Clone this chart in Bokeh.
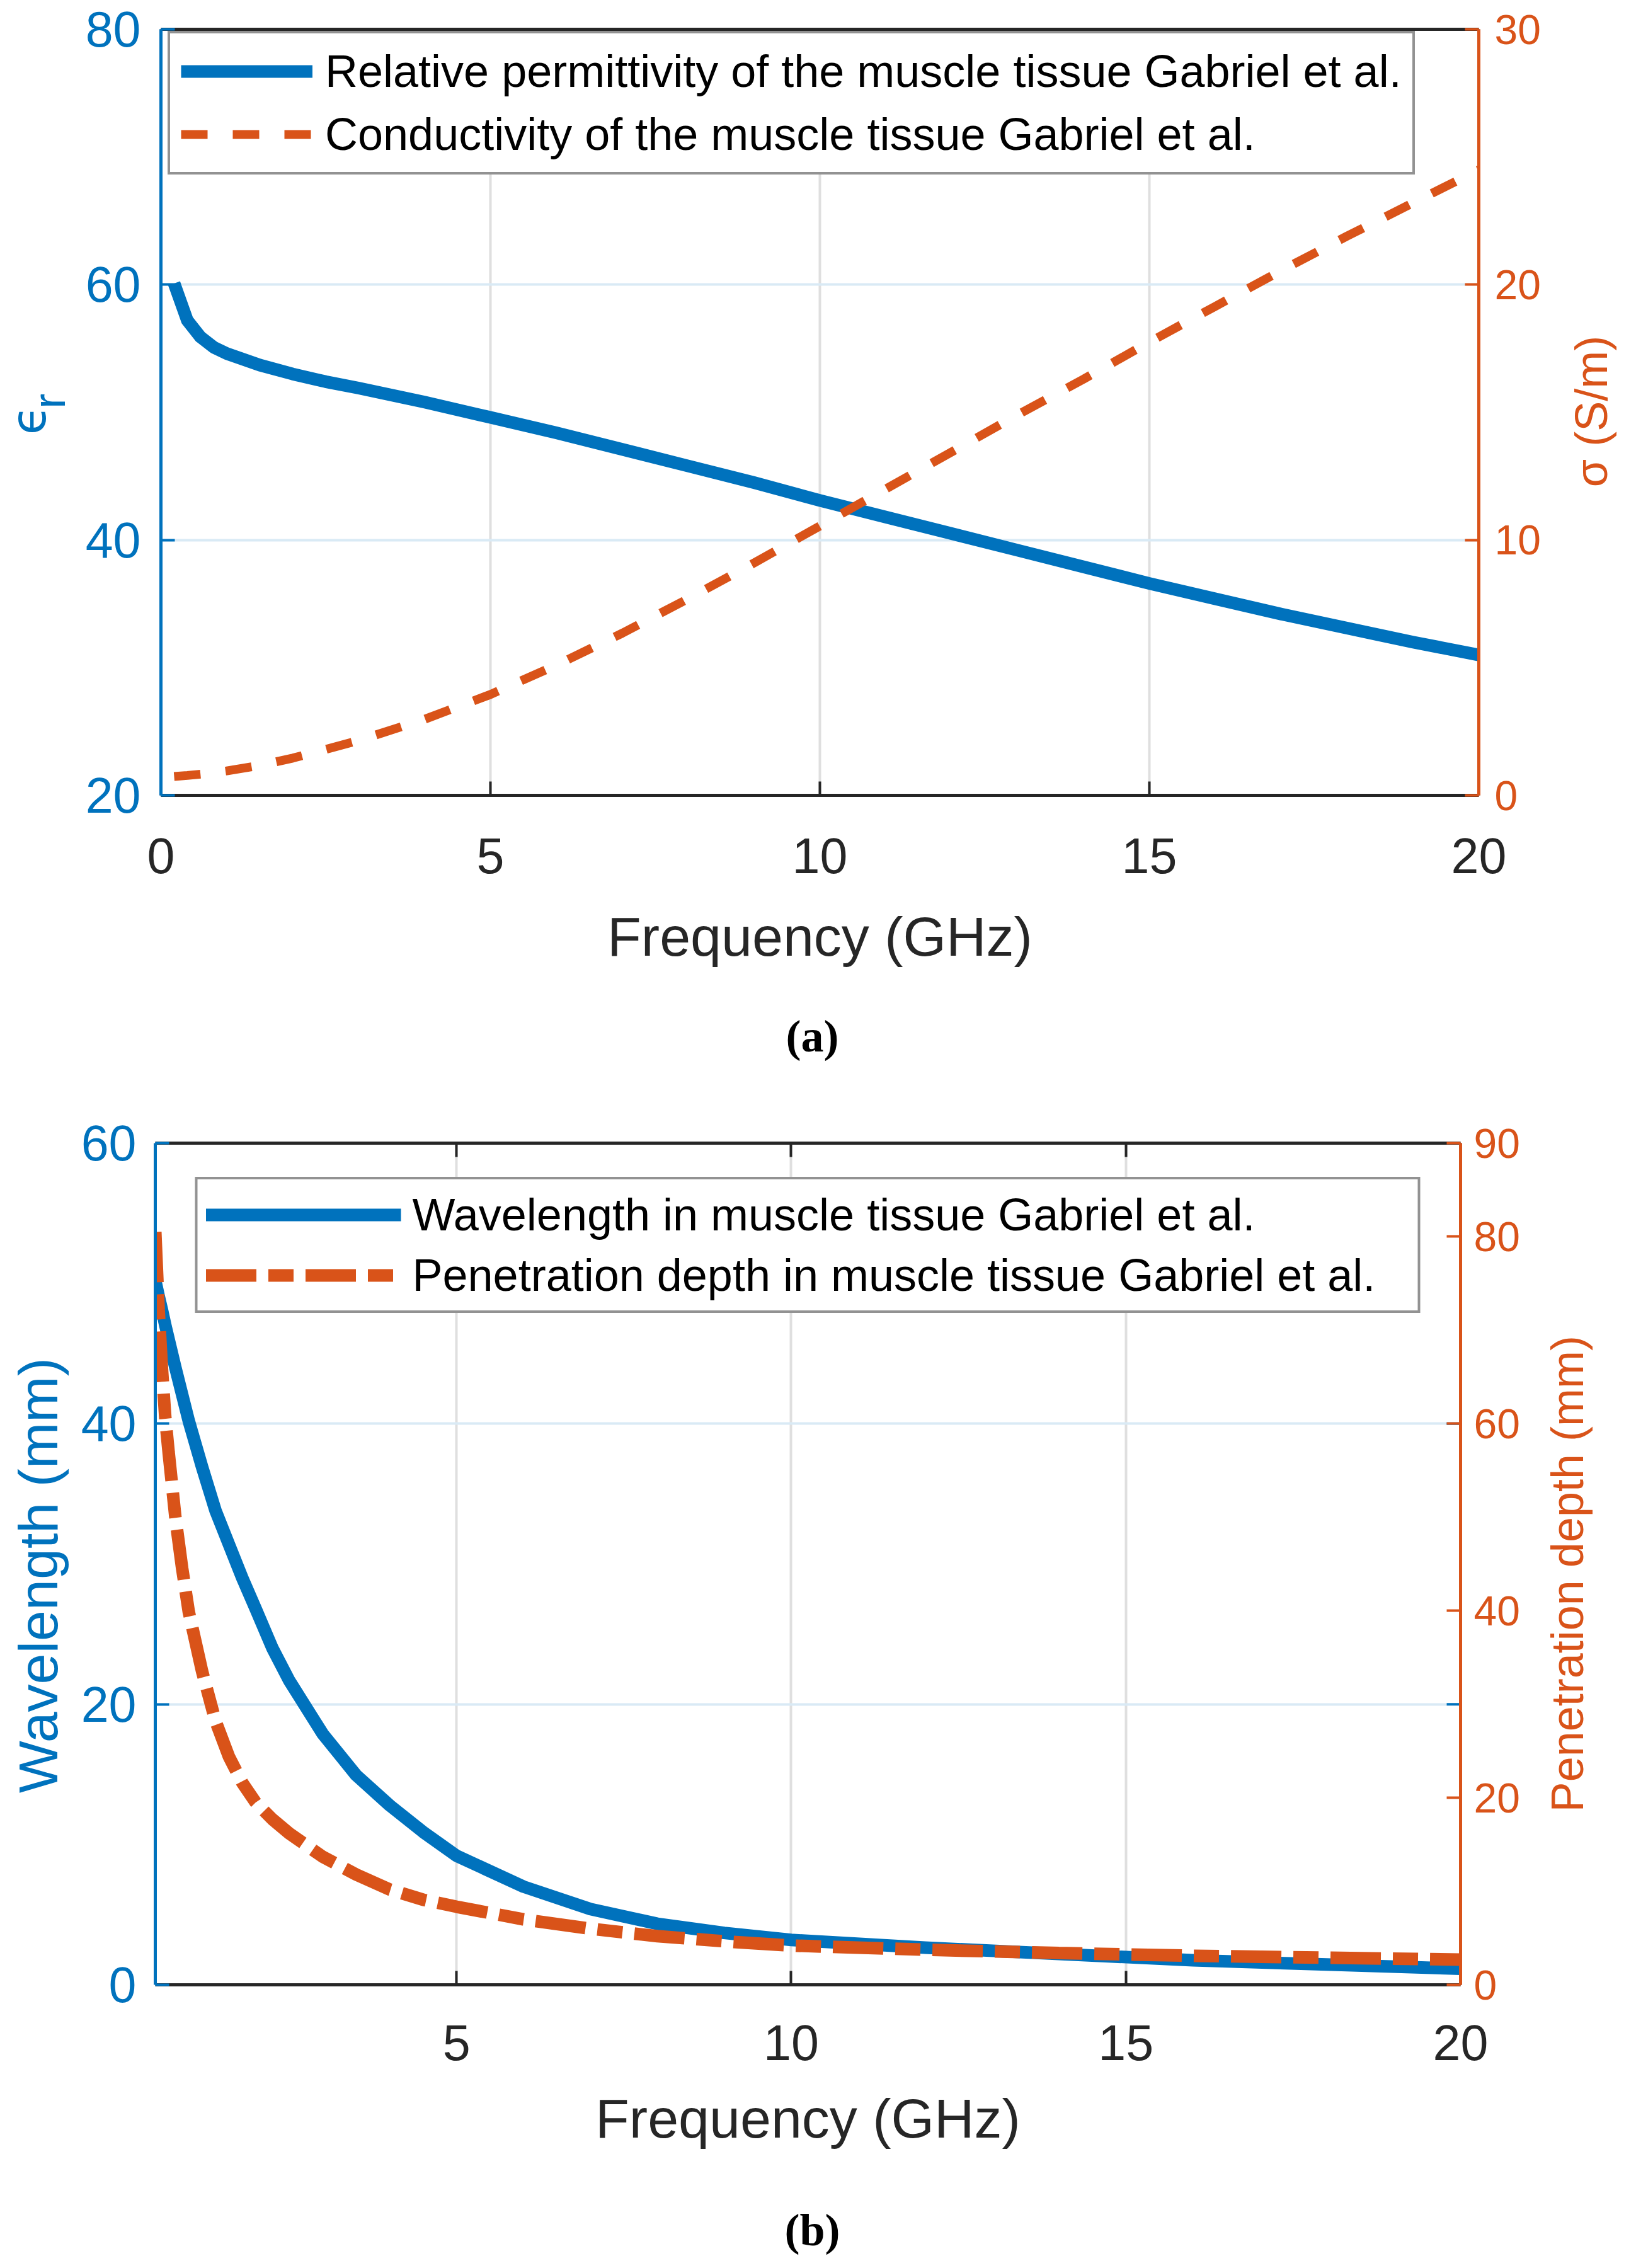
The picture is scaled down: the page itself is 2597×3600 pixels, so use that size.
import math
from bokeh.plotting import figure
from bokeh.models import (Range1d, LinearAxis, FixedTicker, Legend, LegendItem,
                          ColumnDataSource)
from bokeh.core.properties import value
from bokeh.layouts import column, row
from bokeh.embed import file_html
from bokeh.resources import INLINE

BLUE = "#0072BD"
ORANGE = "#D95319"
DARK = "#262626"
SANS = "Liberation Sans"
SERIF = "Liberation Serif"

# ---------------- data (a) ----------------
freq_a = [0.2, 0.4, 0.6, 0.8, 1.0, 1.5, 2.0, 2.5, 3.0, 4.0, 5.0, 6.0, 7.0, 8.0, 9.0,
          10.0, 11.0, 12.0, 13.0, 14.0, 15.0, 16.0, 17.0, 18.0, 19.0, 20.0]
eps_r = [60.1, 57.2, 55.9, 55.1, 54.6, 53.7, 53.0, 52.4, 51.9, 50.8, 49.6, 48.4, 47.1,
         45.8, 44.5, 43.1, 41.8, 40.5, 39.2, 37.9, 36.6, 35.4, 34.2, 33.1, 32.0, 31.0]
sigma = [0.74, 0.78, 0.83, 0.89, 0.96, 1.17, 1.46, 1.80, 2.15, 2.98, 3.95, 5.1, 6.35,
         7.7, 9.1, 10.55, 12.0, 13.45, 14.9, 16.3, 17.75, 19.15, 20.55, 21.9, 23.2, 24.5]

# ---------------- data (b) ----------------
freq_b = [0.5, 0.55, 0.6, 0.65, 0.7, 0.8, 0.9, 1.0, 1.2, 1.4, 1.6, 1.8, 2.0, 2.25, 2.5,
          3.0, 3.5, 4.0, 4.5, 5.0, 6.0, 7.0, 8.0, 9.0, 10.0, 12.0, 14.0, 16.0, 18.0, 20.0]
wavelength = [50.2, 49.1, 48.1, 47.0, 46.0, 44.0, 42.1, 40.2, 36.9, 33.8, 31.4, 29.0,
              26.8, 24.0, 21.7, 17.9, 14.95, 12.8, 10.9, 9.2, 7.0, 5.4, 4.35, 3.7, 3.2,
              2.65, 2.2, 1.75, 1.45, 1.15]
pen_depth = [80.5, 72.2, 65.8, 60.6, 56.9, 50.0, 44.6, 39.9, 33.5, 28.2, 24.4, 21.6,
             19.5, 17.7, 16.2, 13.7, 11.8, 10.2, 9.1, 8.35, 7.0, 6.0, 5.2, 4.65, 4.2,
             3.75, 3.4, 3.1, 2.9, 2.7]

xticks_a = [0, 5, 10, 15, 20]
yticks_a_left = [20, 40, 60, 80]
yticks_a_right = [0, 10, 20, 30]
xticks_b = [5, 10, 15, 20]
yticks_b_left = [0, 20, 40, 60]
yticks_b_right = [0, 20, 40, 60, 80, 90]

labels_a = ["Relative permittivity of the muscle tissue Gabriel et al.",
            "Conductivity of the muscle tissue Gabriel et al."]
labels_b = ["Wavelength in muscle tissue Gabriel et al.",
            "Penetration depth in muscle tissue Gabriel et al."]
ylabel_a_left = ["\u03f5", "r"]
ylabel_a_right = "\u03c3 (S/m)"
ylabel_b_left = "Wavelength (mm)"
ylabel_b_right = "Penetration depth (mm)"
xlabel = "Frequency (GHz)"
captions = ["(a)", "(b)"]

TOTAL_W = 2581
ROT_SHIFT = 138   # rotated text is drawn higher than its anchor; compensate


def style_axis(ax, color, ticks, size, standoff, label="", label_size=88,
               label_standoff=20, no_labels=False):
    ax.ticker = FixedTicker(ticks=ticks)
    ax.axis_line_color = color
    ax.axis_line_width = 5
    ax.major_tick_line_color = color
    ax.major_tick_line_width = 4
    ax.major_tick_in = 22
    ax.major_tick_out = 0
    ax.minor_tick_line_color = None
    ax.major_label_text_color = color
    ax.major_label_text_font = SANS
    ax.major_label_text_font_size = f"{size}px"
    ax.major_label_standoff = standoff
    if no_labels:
        ax.major_label_overrides = {t: "" for t in ticks}
    ax.axis_label = label if label else None
    ax.axis_label_text_color = color
    ax.axis_label_text_font = SANS
    ax.axis_label_text_font_size = f"{label_size}px"
    ax.axis_label_text_font_style = "normal"
    ax.axis_label_standoff = label_standoff


def make_fig(x_range, y_range, extra_range, fw, fh, bl, bt, br, bb):
    p = figure(frame_width=fw, frame_height=fh, x_range=x_range, y_range=y_range,
               output_backend="svg", toolbar_location=None,
               min_border_left=bl, min_border_top=bt, min_border_right=br,
               min_border_bottom=bb)
    p.extra_y_ranges = {"right": extra_range}
    p.outline_line_color = None
    p.background_fill_color = "white"
    p.border_fill_color = "white"
    p.xgrid.grid_line_color = "#dfdfdf"
    p.xgrid.grid_line_width = 4
    p.ygrid.grid_line_color = "#d9eaf5"
    p.ygrid.grid_line_width = 4
    return p


def blank(w, h):
    f = figure(width=w, height=h, x_range=Range1d(0, w), y_range=Range1d(0, h),
               output_backend="svg", toolbar_location=None,
               x_axis_type=None, y_axis_type=None, min_border=0)
    f.outline_line_color = None
    f.background_fill_color = "white"
    f.border_fill_color = "white"
    return f


def put_text(f, x, y, txt, color, size, font=SANS, angle=0.0, style="normal"):
    f.text(x=[x], y=[y], text=[txt], angle=angle, text_align="center",
           text_baseline="middle", text_color=color, text_font=value(font),
           text_font_size=value(f"{size}px"), text_font_style=style)


def put_vtext(f, x, y_from_top, txt, color, size, font=SANS, shift=ROT_SHIFT):
    put_text(f, x, f.height - y_from_top - shift, txt, color, size, font=font,
             angle=math.pi / 2)


def style_legend(leg):
    leg.label_text_font = SANS
    leg.label_text_font_size = "72px"
    leg.label_text_color = "#000000"
    leg.border_line_color = DARK
    leg.border_line_width = 4
    leg.background_fill_color = "white"
    leg.background_fill_alpha = 1.0


# ================= figure (a) =================
LA_W, PA_BL, FW_A, PA_BR = 120, 135, 2092, 130
PA_BT, FH_A, PA_BB = 46, 1216, 320
HA = PA_BT + FH_A + PA_BB
RA_W = TOTAL_W - LA_W - (PA_BL + FW_A + PA_BR)

pa = make_fig(Range1d(0, 20), Range1d(20, 80), Range1d(0, 30),
              FW_A, FH_A, PA_BL, PA_BT, PA_BR, PA_BB)
pa.xgrid.ticker = FixedTicker(ticks=xticks_a)
pa.ygrid.ticker = FixedTicker(ticks=yticks_a_left)

src_a = ColumnDataSource(dict(f=freq_a, eps=eps_r, sig=sigma))
ra1 = pa.line("f", "eps", source=src_a, line_color=BLUE, line_width=20,
              line_join="round")
ra2 = pa.line("f", "sig", source=src_a, y_range_name="right", line_color=ORANGE,
              line_width=14, line_dash="42 40")

style_axis(pa.xaxis[0], DARK, xticks_a, 79, 68, xlabel, 88, 48)
style_axis(pa.yaxis[0], BLUE, yticks_a_left, 79, 32)

ax_ra = LinearAxis(y_range_name="right")
style_axis(ax_ra, ORANGE, yticks_a_right, 66, 25)
pa.add_layout(ax_ra, "right")

ax_ta = LinearAxis()
style_axis(ax_ta, DARK, xticks_a, 10, 0, no_labels=True)
pa.add_layout(ax_ta, "above")

leg_a = Legend(items=[LegendItem(label=labels_a[0], renderers=[ra1]),
                      LegendItem(label=labels_a[1], renderers=[ra2])],
               location=(11, 985))
leg_a.padding = 17
leg_a.spacing = 14
leg_a.glyph_height = 86
leg_a.label_height = 86
leg_a.glyph_width = 209
leg_a.label_standoff = 20
leg_a.label_width = 1700
leg_a.margin = 0
style_legend(leg_a)
pa.add_layout(leg_a, "center")

# side strips carrying the rotated y-axis titles (read bottom to top)
la = blank(LA_W, HA)
put_vtext(la, 45, 661, ylabel_a_left[0], BLUE, 76, font="DejaVu Sans",
          shift=ROT_SHIFT + 8)
put_vtext(la, 77, 622, ylabel_a_left[1], BLUE, 72, shift=ROT_SHIFT + 8)
ra = blank(RA_W, HA)
put_vtext(ra, 48, 651, ylabel_a_right, ORANGE, 72)

CAP_A_H = 1768 - 8 - HA
cap_a = blank(TOTAL_W, CAP_A_H)
put_text(cap_a, 1289, CAP_A_H - (1652 - 8 - HA), captions[0], "#000000", 72,
         font=SERIF, style="bold")

# ================= figure (b) =================
LB_W, PB_BL, FW_B, PB_BR = 112, 134, 2072, 120
PB_BT, FH_B, PB_BB = 54, 1336, 310
HB = PB_BT + FH_B + PB_BB
RB_W = TOTAL_W - LB_W - (PB_BL + FW_B + PB_BR)

pb = make_fig(Range1d(0.5, 20), Range1d(0, 60), Range1d(0, 90),
              FW_B, FH_B, PB_BL, PB_BT, PB_BR, PB_BB)
pb.xgrid.ticker = FixedTicker(ticks=xticks_b)
pb.ygrid.ticker = FixedTicker(ticks=yticks_b_left)

src_b = ColumnDataSource(dict(f=freq_b, lam=wavelength, dep=pen_depth))
rb1 = pb.line("f", "lam", source=src_b, line_color=BLUE, line_width=20,
              line_join="round")
rb2 = pb.line("f", "dep", source=src_b, y_range_name="right", line_color=ORANGE,
              line_width=20, line_dash="80 19 40 19")

# left-axis ticks mirrored on the right edge (as drawn by the original)
x_end = pb.x_range.end
tick_len = 22 * (pb.x_range.end - pb.x_range.start) / FW_B
pb.segment(x0=[x_end - tick_len] * len(yticks_b_left), x1=[x_end] * len(yticks_b_left),
           y0=yticks_b_left, y1=yticks_b_left, line_color=BLUE, line_width=4)

style_axis(pb.xaxis[0], DARK, xticks_b, 79, 64, xlabel, 88, 40)
style_axis(pb.yaxis[0], BLUE, yticks_b_left, 79, 30)

ax_rb = LinearAxis(y_range_name="right")
style_axis(ax_rb, ORANGE, yticks_b_right, 66, 21)
pb.add_layout(ax_rb, "right")

ax_tb = LinearAxis()
style_axis(ax_tb, DARK, xticks_b, 10, 0, no_labels=True)
pb.add_layout(ax_tb, "above")

leg_b = Legend(items=[LegendItem(label=labels_b[0], renderers=[rb1]),
                      LegendItem(label=labels_b[1], renderers=[rb2])],
               location="top_center")
leg_b.margin = 54
leg_b.padding = 13
leg_b.spacing = 10
leg_b.glyph_height = 86
leg_b.label_height = 86
leg_b.glyph_width = 310
leg_b.label_standoff = 18
leg_b.label_width = 1583
style_legend(leg_b)
pb.add_layout(leg_b, "center")

lb = blank(LB_W, HB)
put_vtext(lb, 60, 735, ylabel_b_left, BLUE, 88)
rb = blank(RB_W, HB)
RB_X0 = 8 + LB_W + PB_BL + FW_B + PB_BR
put_vtext(rb, 2495 - RB_X0, 732, ylabel_b_right, ORANGE, 72)

TOP_B = 1768 + HB
CAP_B_H = 3596 - TOP_B
cap_b = blank(TOTAL_W, CAP_B_H)
put_text(cap_b, 1289, CAP_B_H - (3547 - TOP_B), captions[1], "#000000", 72,
         font=SERIF, style="bold")

layout = column(row(la, pa, ra, spacing=0), cap_a,
                row(lb, pb, rb, spacing=0), cap_b, spacing=0)
open("out.html", "w").write(file_html(layout, INLINE))
